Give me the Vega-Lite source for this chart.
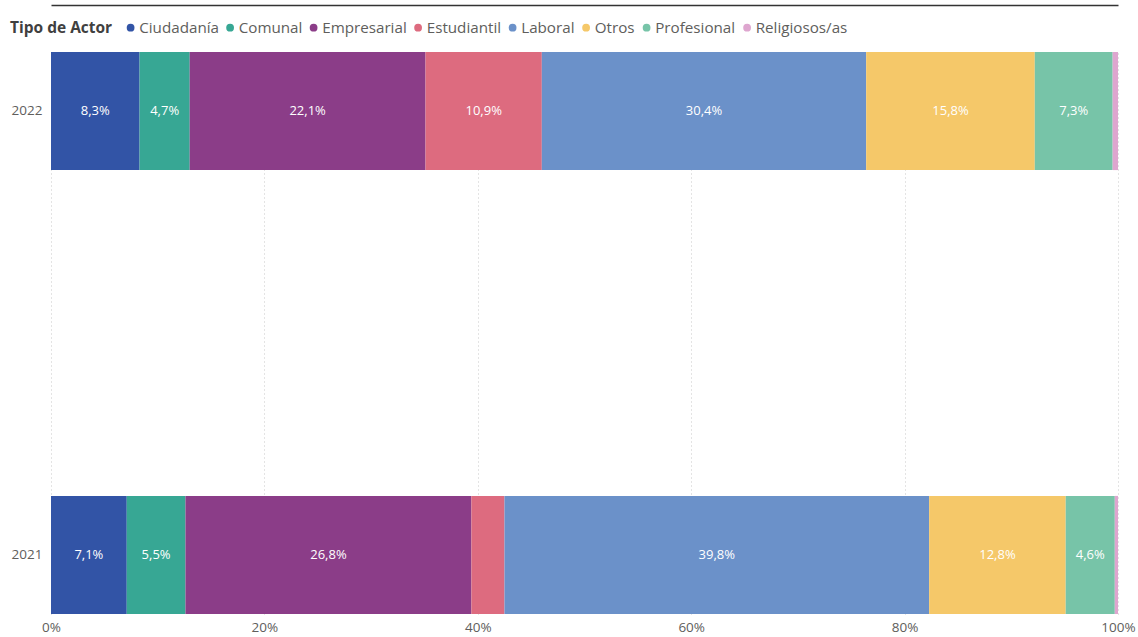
{
  "$schema": "https://vega.github.io/schema/vega-lite/v6.json",
  "width": 1067,
  "height": 562,
  "autosize": {"type": "none"},
  "padding": {"left": 51, "top": 52, "right": 20, "bottom": 23},
  "background": "white",
  "config": {
    "locale": {"number": {"decimal": ",", "thousands": ".", "grouping": [3], "currency": ["", " €"]}},
    "view": {"stroke": null},
    "font": "Open Sans"
  },
  "data": {
    "values": [
      {"year": "2022", "actor": "Ciudadanía", "v": 0.083},
      {"year": "2022", "actor": "Comunal", "v": 0.047},
      {"year": "2022", "actor": "Empresarial", "v": 0.221},
      {"year": "2022", "actor": "Estudiantil", "v": 0.109},
      {"year": "2022", "actor": "Laboral", "v": 0.304},
      {"year": "2022", "actor": "Otros", "v": 0.158},
      {"year": "2022", "actor": "Profesional", "v": 0.073},
      {"year": "2022", "actor": "Religiosos/as", "v": 0.005},
      {"year": "2021", "actor": "Ciudadanía", "v": 0.071},
      {"year": "2021", "actor": "Comunal", "v": 0.055},
      {"year": "2021", "actor": "Empresarial", "v": 0.268},
      {"year": "2021", "actor": "Estudiantil", "v": 0.031},
      {"year": "2021", "actor": "Laboral", "v": 0.398},
      {"year": "2021", "actor": "Otros", "v": 0.128},
      {"year": "2021", "actor": "Profesional", "v": 0.046},
      {"year": "2021", "actor": "Religiosos/as", "v": 0.003}
    ]
  },
  "transform": [
    {"stack": "v", "groupby": ["year"], "sort": [{"field": "actor", "order": "ascending"}], "offset": "normalize", "as": ["v0", "v1"]}
  ],
  "layer": [
    {
      "mark": {"type": "bar"},
      "encoding": {
        "y": {
          "field": "year", "type": "nominal", "sort": "descending",
          "scale": {"paddingInner": 0.734, "paddingOuter": 0},
          "axis": {"title": null, "domain": false, "ticks": false, "labelPadding": 9, "labelFontSize": 13.5, "labelColor": "#605E5C"}
        },
        "x": {
          "field": "v0", "type": "quantitative",
          "scale": {"domain": [0, 1], "nice": false, "zero": true},
          "axis": {"orient": "bottom", "title": null, "format": ".0%", "values": [0, 0.2, 0.4, 0.6, 0.8, 1], "grid": true, "gridDash": [1, 3], "gridColor": "#C8C8C8", "domain": false, "ticks": false, "labelFlush": false, "labelPadding": 6, "labelFontSize": 13.5, "labelColor": "#605E5C"}
        },
        "x2": {"field": "v1"},
        "color": {
          "field": "actor", "type": "nominal",
          "scale": {
            "domain": ["Ciudadanía", "Comunal", "Empresarial", "Estudiantil", "Laboral", "Otros", "Profesional", "Religiosos/as"],
            "range": ["#3254A6", "#37A794", "#8B3D88", "#DD6B7F", "#6B91C9", "#F5C869", "#77C4A8", "#DEA6CF"]
          },
          "legend": {
            "orient": "none", "legendX": -41, "legendY": -32, "direction": "horizontal", "columns": 8,
            "title": "Tipo de Actor", "titleOrient": "left", "titleFontSize": 15.5, "titleFontWeight": "bold", "titleColor": "#404040", "titlePadding": 10,
            "labelFontSize": 15.2, "labelColor": "#605E5C", "symbolType": "circle", "symbolSize": 60, "symbolStrokeWidth": 0, "labelOffset": 1, "columnPadding": 3.5
          }
        }
      }
    },
    {
      "transform": [
        {"filter": "datum.v > 0.04"},
        {"calculate": "(datum.v0 + datum.v1) / 2", "as": "mid"}
      ],
      "mark": {"type": "text", "color": "white", "fontSize": 13},
      "encoding": {
        "y": {"field": "year", "type": "nominal", "sort": "descending"},
        "x": {
          "field": "mid", "type": "quantitative",
          "axis": {"orient": "top", "offset": 47, "title": null, "labels": false, "ticks": false, "grid": false, "domain": true, "domainColor": "#333333", "domainWidth": 1.5}
        },
        "text": {"field": "v", "type": "quantitative", "format": ".1%"}
      }
    }
  ],
  "resolve": {"axis": {"x": "independent"}}
}
